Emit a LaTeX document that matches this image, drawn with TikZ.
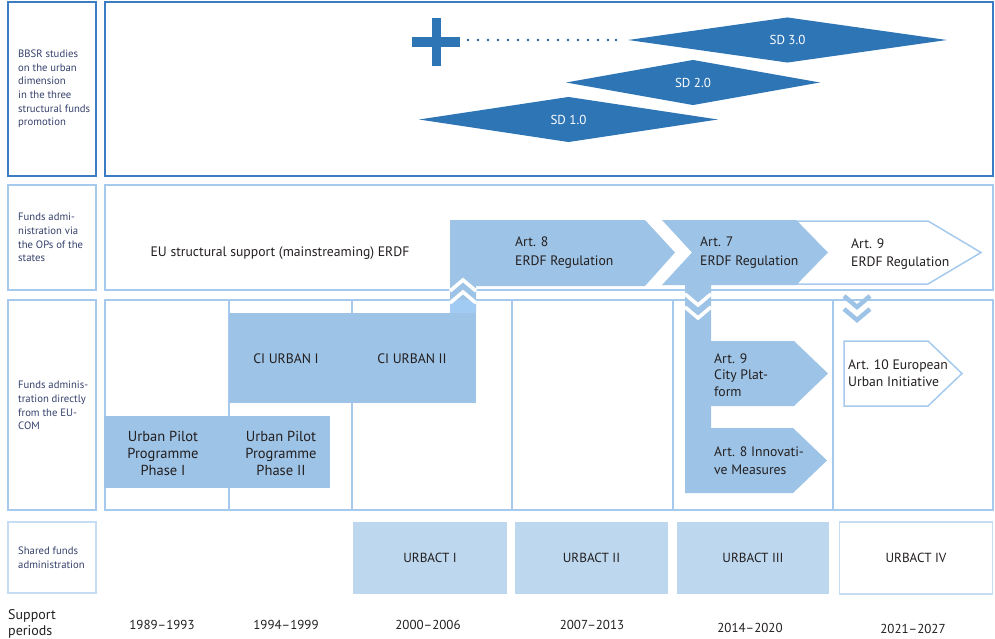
\documentclass[tikz,border=0pt]{standalone}
\usepackage{fontspec}
\setmainfont{PT Sans}
\usetikzlibrary{shapes.geometric}

\definecolor{sdblue}{HTML}{2E75B6}
\definecolor{darkframe}{HTML}{3B7CC2}
\definecolor{paleblue}{HTML}{9DC3E6}
\definecolor{paleblueb}{HTML}{A2CBF3}
\definecolor{lightframe}{HTML}{A6CAEE}
\definecolor{faintframe}{HTML}{C6DCF2}
\definecolor{urbactfill}{HTML}{BDD7EE}
\definecolor{labeltext}{HTML}{34406B}
\definecolor{maintext}{HTML}{231F20}

\tikzset{
  rowlabel/.style={anchor=west, align=left, inner sep=0pt, text=labeltext,
    font=\fontsize{10.7}{13.6}\selectfont},
  maintxt/.style={inner sep=0pt, text=maintext, font=\fontsize{13.7}{17}\selectfont},
  arttxt/.style={maintxt, anchor=west, align=left, font=\fontsize{13.7}{18.5}\selectfont},
  sdshape/.style={diamond, fill=sdblue, inner sep=0pt, text=white,
    font=\fontsize{13}{14}\selectfont},
  urbactbox/.style={rectangle, fill=urbactfill, inner sep=0pt, text=maintext,
    minimum height=72pt, font=\fontsize{13.2}{14}\selectfont},
  datetxt/.style={maintxt, font=\fontsize{13}{14}\selectfont},
  chevron/.style={line width=3.6pt, miter limit=4},
}

\begin{document}
\begin{tikzpicture}[x=1pt,y=-1pt]
  \useasboundingbox (0,0) rectangle (995,639);

  % frames of the four rows
  \draw[darkframe, line width=2pt] (8,2) rectangle (96,176);
  \draw[darkframe, line width=2pt] (105,2) rectangle (993,176);
  \draw[lightframe, line width=1.8pt] (8,185) rectangle (96,290);
  \draw[lightframe, line width=1.8pt] (105,185) rectangle (993,290);
  \draw[lightframe, line width=1.8pt] (8,300) rectangle (96,510);
  \draw[lightframe, line width=1.8pt] (105,300) rectangle (993,510);
  \foreach \x in {229,352,512,673,833}{
    \draw[lightframe, line width=1.8pt] (\x,300) -- (\x,510);
  }
  \draw[faintframe, line width=1.8pt] (8,522) rectangle (96,593);

  % studies: cross, dots and diamonds
  \fill[sdblue] (412,37) rectangle (460,47);
  \fill[sdblue] (432,18) rectangle (441,66);
  \foreach \x in {468,478,...,598,608,616}{
    \fill[sdblue!80!black] (\x,40) circle (1.4);
  }
  \node[sdshape, minimum width=319pt, minimum height=38pt] (sd3) at (787.5,40) {SD 3.0};
  \node[sdshape, minimum width=254pt, minimum height=38pt] (sd2) at (693,82.5) {SD 2.0};
  \node[sdshape, minimum width=299pt, minimum height=37pt] (sd1) at (568.5,119.5) {SD 1.0};

  % ERDF regulation arrows
  \filldraw[fill=white, draw=lightframe, line width=1.5pt]
    (796,221) -- (928,221) -- (981,252.5) -- (928,284) -- (796,284) -- (827,252.5) -- cycle;
  \fill[paleblue] (450,220) -- (645,220) -- (675,252.5) -- (645,286) -- (476,286)
    -- (476,313) -- (450,313) -- cycle;
  \fill[paleblueb] (450,300) rectangle (476,313);
  \fill[paleblue] (662,220) -- (796,220) -- (827,252.5) -- (796,285) -- (711,285)
    -- (711,493) -- (685,493) -- (685,285) -- (662,285) -- (692,252.5) -- cycle;

  % programmes of the EU-COM
  \fill[paleblue] (229,313) rectangle (476,403);
  \fill[paleblue] (104,416) rectangle (330,488);
  \fill[paleblue] (711,341) -- (794,341) -- (828,373.5) -- (794,406) -- (711,406) -- cycle;
  \fill[paleblue] (711,428) -- (793,428) -- (827,460.5) -- (793,493) -- (711,493) -- cycle;
  \filldraw[fill=white, draw=lightframe, line width=1.5pt]
    (844,341) -- (928,341) -- (962,373.5) -- (928,406) -- (844,406) -- cycle;

  % chevrons
  \draw[chevron, white] (450,291) -- (463,280) -- (476,291);
  \draw[chevron, white] (450,303) -- (463,292) -- (476,303);
  \draw[chevron, white] (685,294) -- (698,305) -- (711,294);
  \draw[chevron, white] (685,307) -- (698,318) -- (711,307);
  \draw[chevron, paleblue, line width=4.5pt] (844,296) -- (857,307) -- (870,296);
  \draw[chevron, paleblue, line width=4.5pt] (844,309) -- (857,320) -- (870,309);

  % row labels
  \node[rowlabel] (studies) at (18,89) {BBSR studies\\on the urban\\dimension\\in the three\\structural funds\\promotion};
  \node[rowlabel] (opsstates) at (18,237.5) {Funds admi-\\nistration via\\the OPs of the\\states};
  \node[rowlabel] (eucom) at (18,405.5) {Funds adminis-\\tration directly\\from the EU-\\COM};
  \node[rowlabel] (shared) at (18,558) {Shared funds\\administration};

  % texts in the rows
  \node[maintxt] (mainstream) at (280,253) {EU structural support (mainstreaming) ERDF};
  \node[arttxt] (art8) at (515,252.5) {Art. 8\\ERDF Regulation};
  \node[arttxt] (art7) at (700,252.5) {Art. 7\\ERDF Regulation};
  \node[arttxt] (art9) at (851,254) {Art. 9\\ERDF Regulation};
  \node[maintxt] (urban1) at (286,359) {CI URBAN I};
  \node[maintxt] (urban2) at (412,359) {CI URBAN II};
  \node[maintxt, align=center, font=\fontsize{14.5}{17}\selectfont] (pilot1) at (163,453) {Urban Pilot\\Programme\\Phase I};
  \node[maintxt, align=center, font=\fontsize{14.5}{17}\selectfont] (pilot2) at (281,453) {Urban Pilot\\Programme\\Phase II};
  \node[arttxt, font=\fontsize{13.7}{16.5}\selectfont] (cityplat) at (714,375) {Art. 9\\City Plat-\\form};
  \node[arttxt, font=\fontsize{13.7}{17.5}\selectfont] (innov) at (714,460.5) {Art. 8 Innovati-\\ve Measures};
  \node[arttxt, font=\fontsize{13.7}{17}\selectfont] (euinit) at (848,373.5) {Art. 10 European\\Urban Initiative};

  % URBACT programmes
  \node[urbactbox, minimum width=154pt] (urbact1) at (430,558) {URBACT I};
  \node[urbactbox, minimum width=153pt] (urbact2) at (591.5,558) {URBACT II};
  \node[urbactbox, minimum width=152pt] (urbact3) at (753,558) {URBACT III};
  \node[urbactbox, fill=white, draw=faintframe, line width=1.5pt, minimum width=153pt] (urbact4) at (916,558) {URBACT IV};

  % support periods
  \node[maintxt, anchor=west, align=left, font=\fontsize{14}{16.5}\selectfont] (periods) at (8,624) {Support\\periods};
  \node[datetxt] (p1) at (162,625) {1989--1993};
  \node[datetxt] (p2) at (286,625) {1994--1999};
  \node[datetxt] (p3) at (428,625) {2000--2006};
  \node[datetxt] (p4) at (592,625) {2007--2013};
  \node[datetxt] (p5) at (750,628) {2014--2020};
  \node[datetxt] (p6) at (913,629) {2021--2027};
\end{tikzpicture}
\end{document}
